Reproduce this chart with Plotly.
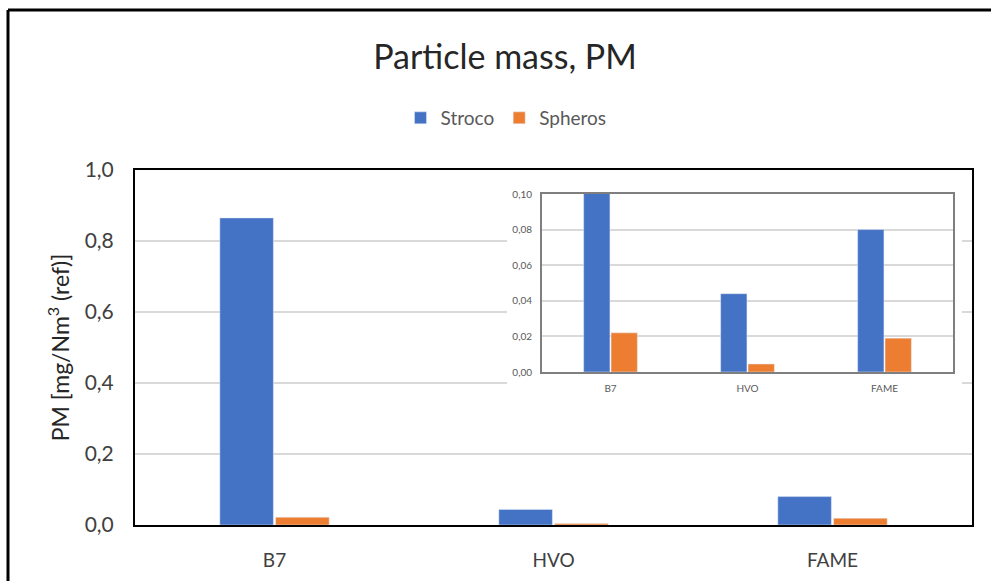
import plotly.graph_objects as go

categories = ["B7", "HVO", "FAME"]
stroco = [0.865, 0.044, 0.080]
spheros = [0.022, 0.0045, 0.019]
series_names = ["Stroco", "Spheros"]
main_ticks = [0.0, 0.2, 0.4, 0.6, 0.8, 1.0]
inset_ticks = [0.00, 0.02, 0.04, 0.06, 0.08, 0.10]

W, H = 991, 581
BLUE = "#4472C4"
ORANGE = "#ED7D31"
GRID = "#D9D9D9"
FONT = "Lato"

def px(x):
    return x / W

def py(y):
    return 1 - y / H

fig = go.Figure()

# main chart
fig.add_trace(go.Bar(x=categories, y=stroco, name=series_names[0], marker_color=BLUE,
                     xaxis="x", yaxis="y"))
fig.add_trace(go.Bar(x=categories, y=spheros, name=series_names[1], marker_color=ORANGE,
                     xaxis="x", yaxis="y"))
# dummy subplot providing the white background of the inset
fig.add_trace(go.Scatter(x=[0.5], y=[0.5], mode="markers", marker=dict(opacity=0),
                         xaxis="x2", yaxis="y2", showlegend=False, hoverinfo="skip"))
# inset chart
fig.add_trace(go.Bar(x=categories, y=stroco, name=series_names[0], marker_color=BLUE,
                     xaxis="x3", yaxis="y3", showlegend=False))
fig.add_trace(go.Bar(x=categories, y=spheros, name=series_names[1], marker_color=ORANGE,
                     xaxis="x3", yaxis="y3", showlegend=False))

fig.update_layout(
    width=W, height=H, autosize=False,
    margin=dict(l=0, r=0, t=0, b=0, pad=0, autoexpand=False),
    paper_bgcolor="white", plot_bgcolor="white",
    separators=",.",
    barmode="group", bargap=0.6, bargroupgap=0.04,
    font=dict(family=FONT, color="#404040"),
    title=dict(text="Particle mass, PM", x=px(505), xanchor="center",
               y=py(57), yanchor="middle", automargin=False,
               font=dict(family=FONT, size=34, color="#262626")),
    legend=dict(orientation="h", x=px(506), xanchor="center", y=py(118), yanchor="middle",
                font=dict(family=FONT, size=19, color="#595959"),
                itemwidth=30, tracegroupgap=0, bgcolor="rgba(0,0,0,0)"),
    xaxis=dict(domain=[px(135), px(972)], anchor="y", automargin=False,
               showline=True, mirror=True, linecolor="black", linewidth=2,
               ticks="outside", ticklen=17, tickcolor="rgba(0,0,0,0)",
               tickfont=dict(size=19, color="#404040"), showgrid=False),
    yaxis=dict(domain=[py(525), py(170)], anchor="x", range=[0, 1.0], automargin=False,
               tickvals=main_ticks, tickformat=".1f",
               showline=True, mirror=True, linecolor="black", linewidth=2,
               showgrid=True, gridcolor=GRID, gridwidth=1.5,
               ticks="outside", ticklen=15, tickcolor="rgba(0,0,0,0)",
               tickfont=dict(size=21, color="#404040"),
               title=dict(text="PM [mg/Nm<sup>3</sup> (ref)]", standoff=9,
                          font=dict(size=23, color="#262626"))),
    xaxis2=dict(domain=[px(507), px(962)], anchor="y2", range=[0, 1], visible=False,
                automargin=False),
    yaxis2=dict(domain=[py(387), py(173)], anchor="x2", range=[0, 1], visible=False,
                automargin=False),
    xaxis3=dict(domain=[px(542), px(953)], anchor="y3", automargin=False,
                showline=True, mirror=True, linecolor="#7F7F7F", linewidth=2,
                ticks="outside", ticklen=6, tickcolor="rgba(0,0,0,0)",
                tickfont=dict(size=10, color="#595959"), showgrid=False),
    yaxis3=dict(domain=[py(372), py(194)], anchor="x3", range=[0, 0.1], automargin=False,
                tickvals=inset_ticks, tickformat=".2f",
                showline=True, mirror=True, linecolor="#7F7F7F", linewidth=2,
                showgrid=True, gridcolor=GRID, gridwidth=1.5,
                ticks="outside", ticklen=6, tickcolor="rgba(0,0,0,0)",
                tickfont=dict(size=10, color="#595959")),
    shapes=[
        dict(type="line", xref="paper", yref="paper", x0=px(8), x1=1, y0=py(10), y1=py(10),
             line=dict(color="black", width=3), layer="above"),
        dict(type="line", xref="paper", yref="paper", x0=px(8), x1=px(8), y0=py(10), y1=0,
             line=dict(color="black", width=3), layer="above"),
    ],
)

fig.write_html("out.html", config={"displayModeBar": False},
               post_script="document.body.style.margin='0';document.body.style.overflow='hidden';")
